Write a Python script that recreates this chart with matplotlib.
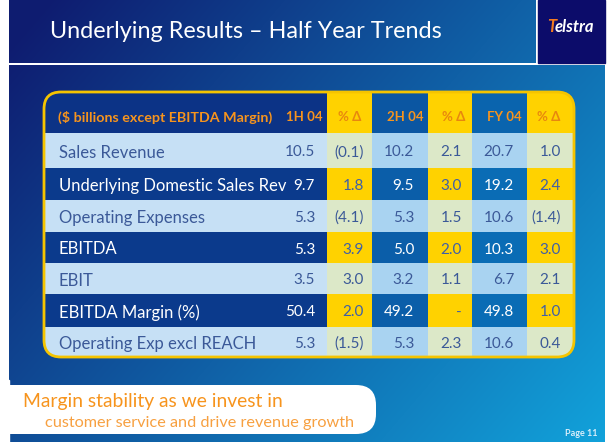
import numpy as np
import matplotlib
matplotlib.use("Agg")
import matplotlib.pyplot as plt
from matplotlib.patches import Rectangle, FancyBboxPatch
from matplotlib.colors import to_rgb

plt.rcParams['font.family'] = ['Lato', 'DejaVu Sans']

# --- données du tableau ---
title = "Underlying Results \u2013 Half Year Trends"
corner_label = "($ billions except EBITDA Margin)"
col_headers = ["1H 04", "% \u0394", "2H 04", "% \u0394", "FY 04", "% \u0394"]
row_labels = ["Sales Revenue", "Underlying Domestic Sales Rev", "Operating Expenses",
              "EBITDA", "EBIT", "EBITDA Margin (%)", "Operating Exp excl REACH"]
h1_04 = [10.5, 9.7, 5.3, 5.3, 3.5, 50.4, 5.3]
chg_h1 = [-0.1, 1.8, -4.1, 3.9, 3.0, 2.0, -1.5]
h2_04 = [10.2, 9.5, 5.3, 5.0, 3.2, 49.2, 5.3]
chg_h2 = [2.1, 3.0, 1.5, 2.0, 1.1, None, 2.3]
fy_04 = [20.7, 19.2, 10.6, 10.3, 6.7, 49.8, 10.6]
chg_fy = [1.0, 2.4, -1.4, 3.0, 2.1, 1.0, 0.4]
dark_rows = [1, 3, 5]
banner_1 = "Margin stability as we invest in"
banner_2 = "customer service and drive revenue growth"
page = "Page 11"


def fmt(v):
    if v is None:
        return "-"
    if v < 0:
        return "(%.1f)" % (-v)
    return "%.1f" % v


W, H = 616, 442
fig = plt.figure(figsize=(W / 100, H / 100), dpi=100)
ax = fig.add_axes([0, 0, 1, 1])
ax.set_xlim(0, W)
ax.set_ylim(H, 0)
ax.axis("off")

# fond dégradé bleu
c0 = np.array(to_rgb("#0e1c70"))
c1 = np.array(to_rgb("#12a4dc"))
xx, yy = np.meshgrid(np.arange(W), np.arange(H))
t = np.clip(xx / W * 0.65 + yy / H * 0.4 - 0.05, 0, 1)
grad = c0 + (c1 - c0) * t[..., None]
ax.imshow(grad[0:63, 9:536], extent=(9, 536, 63, 0), aspect="auto", zorder=0)
ax.imshow(grad[65:442, 9:605], extent=(9, 605, 442, 65), aspect="auto", zorder=0)

# logo
ax.add_patch(Rectangle((538, 0), 67, 63, color="#0c0c6a", zorder=1))
ax.text(547, 27, "T", color="#f47b20", fontsize=12, fontweight="bold",
        style="italic", ha="left", va="center", zorder=2)
ax.text(555, 27, "elstra", color="white", fontsize=12, fontweight="bold",
        style="italic", ha="left", va="center", zorder=2)

ax.text(50, 31, title, color="white", fontsize=16.8, ha="left", va="center", zorder=2)

# tableau
x_edges = [44, 327, 372, 428, 472, 527, 574]
y_edges = [92, 133, 168, 200, 232, 263, 294, 327, 357]
clip = FancyBboxPatch((x_edges[0], y_edges[0]), x_edges[-1] - x_edges[0],
                      y_edges[-1] - y_edges[0],
                      boxstyle="round,pad=0,rounding_size=17",
                      facecolor="none", edgecolor="#f5c400", linewidth=2, zorder=5)
ax.add_patch(clip)

yellow = "#ffd200"
head_cols = ["#0c3386", yellow, "#0b56a2", yellow, "#0a64ae", yellow]
light_cols = ["#c6e0f5", "#dce8c8", "#a9d3f1", "#dce8c8", "#a9d3f1", "#dce8c8"]
dark_cols = ["#0b3a8c", yellow, "#0b5ea9", yellow, "#0a6cb5", yellow]


def cell(c, r, color):
    p = Rectangle((x_edges[c], y_edges[r]), x_edges[c + 1] - x_edges[c],
                  y_edges[r + 1] - y_edges[r], color=color, lw=0, zorder=3)
    ax.add_patch(p)
    p.set_clip_path(clip)


for c in range(6):
    cell(c, 0, head_cols[c])

orange = "#f7941d"
ax.text(58, 117, corner_label, color=orange, fontsize=10.3, fontweight="bold",
        ha="left", va="center", zorder=6)
head_x = [304, 350, 405, 454, 504, 549]
for c, lab in enumerate(col_headers):
    ax.text(head_x[c], 117, lab, color=orange if c % 2 == 0 else "#e8870e",
            fontsize=9.5, fontweight="bold", ha="center", va="center", zorder=6)

cols = [h1_04, chg_h1, h2_04, chg_h2, fy_04, chg_fy]
val_x = [315, 364, 414, 462, 514, 561]
for i, lab in enumerate(row_labels):
    dark = i in dark_rows
    colors = dark_cols if dark else light_cols
    for c in range(6):
        cell(c, i + 1, colors[c])
    yc = (y_edges[i + 1] + y_edges[i + 2]) / 2 + 2
    txt = "white" if dark else "#3b5998"
    ax.text(59, yc, lab, color=txt, fontsize=12, ha="left", va="center", zorder=6)
    for c in range(6):
        if dark and c % 2 == 1:
            col = "#3f5fa8"
        else:
            col = txt
        ax.text(val_x[c], yc, fmt(cols[c][i]), color=col, fontsize=11,
                ha="right", va="center", zorder=6)

# bandeau du bas
ax.add_patch(FancyBboxPatch((-30, 385), 406, 49,
                            boxstyle="round,pad=0,rounding_size=20",
                            facecolor="white", edgecolor="none", zorder=4))
ax.add_patch(Rectangle((0, 380), 9, 62, color="white", zorder=4))
ax.text(23, 401, banner_1, color=orange, fontsize=13.9, ha="left", va="center", zorder=6)
ax.text(45, 423, banner_2, color="#f7a040", fontsize=11.7, ha="left", va="center", zorder=6)
ax.text(565, 434, page, color="#d8eefa", fontsize=6.5, fontweight="bold",
        ha="left", va="center", zorder=6)

fig.savefig("out.png", dpi=100)
